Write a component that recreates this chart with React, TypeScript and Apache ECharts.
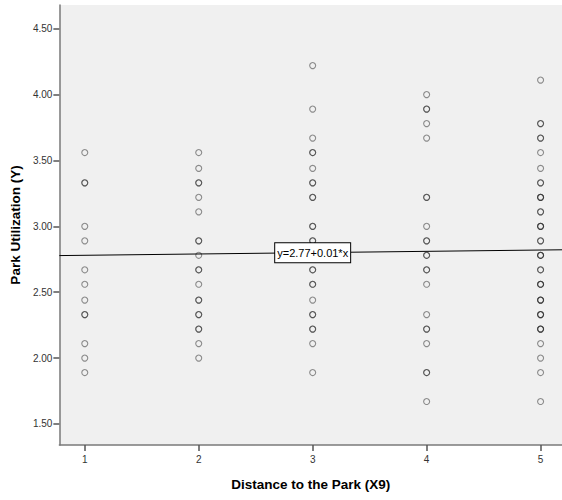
import React, { useEffect, useRef } from "react";
import * as echarts from "echarts";

// Park utilization scores grouped by distance category (repeated values overlap)
const distanceCategories = [1, 2, 3, 4, 5];
const utilizationAt1 = [3.56, 3.33, 3.33, 3.0, 2.89, 2.67, 2.56, 2.44, 2.33, 2.33, 2.11, 2.0, 1.89];
const utilizationAt2 = [
  3.56, 3.44, 3.33, 3.33, 3.22, 3.11, 2.89, 2.89, 2.78, 2.67, 2.67, 2.56, 2.44, 2.44,
  2.33, 2.33, 2.22, 2.22, 2.11, 2.0,
];
const utilizationAt3 = [
  4.22, 3.89, 3.67, 3.56, 3.56, 3.44, 3.33, 3.33, 3.22, 3.22, 3.0, 3.0, 2.89, 2.89,
  2.67, 2.67, 2.56, 2.56, 2.44, 2.33, 2.33, 2.22, 2.22, 2.11, 1.89,
];
const utilizationAt4 = [
  4.0, 3.89, 3.89, 3.78, 3.67, 3.22, 3.22, 3.0, 2.89, 2.89, 2.78, 2.78, 2.67, 2.67,
  2.56, 2.33, 2.22, 2.22, 2.11, 1.89, 1.89, 1.67,
];
const utilizationAt5 = [
  4.11, 3.78, 3.78, 3.67, 3.67, 3.56, 3.44, 3.33, 3.33, 3.22, 3.22, 3.22, 3.11, 3.11,
  3.0, 3.0, 3.0, 2.89, 2.89, 2.78, 2.78, 2.78, 2.67, 2.67, 2.56, 2.56, 2.56, 2.44,
  2.44, 2.44, 2.33, 2.33, 2.33, 2.22, 2.22, 2.22, 2.11, 2.0, 1.89, 1.67,
];

// Fitted line y = intercept + slope * x
const fitIntercept = 2.77;
const fitSlope = 0.01;

const yTickValues = [1.5, 2.0, 2.5, 3.0, 3.5, 4.0, 4.5];
const xTickValues = [1, 2, 3, 4, 5];

const X_MIN = 0.777;
const X_MAX = 5.188;
const Y_MIN = 1.34;
const Y_MAX = 4.68;

export default function App() {
  const ref = useRef<HTMLDivElement>(null);

  useEffect(() => {
    if (!ref.current) return;
    const chart = echarts.init(ref.current, undefined, { renderer: "svg" });

    const columns = [utilizationAt1, utilizationAt2, utilizationAt3, utilizationAt4, utilizationAt5];
    const points: [number, number][] = [];
    columns.forEach((vals, i) => {
      vals.forEach((v) => points.push([distanceCategories[i], v]));
    });

    const fit = (x: number) => fitIntercept + fitSlope * x;
    const labelX = 3;

    chart.setOption({
      animation: false,
      backgroundColor: "#ffffff",
      grid: {
        left: 58,
        right: 0,
        top: 5,
        bottom: 55,
        show: true,
        backgroundColor: "#f0f0f0",
        borderWidth: 0,
      },
      xAxis: {
        type: "value",
        min: X_MIN,
        max: X_MAX,
        name: "Distance to the Park (X9)",
        nameLocation: "middle",
        nameGap: 32,
        nameTextStyle: {
          fontFamily: "Liberation Sans, Arial, sans-serif",
          fontWeight: "bold",
          fontSize: 13.5,
          color: "#000",
        },
        splitLine: { show: false },
        axisLine: { show: true, onZero: false, lineStyle: { color: "#7a7a7a", width: 1.5 } },
        axisTick: {
          show: true,
          length: 6,
          customValues: xTickValues,
          lineStyle: { color: "#555", width: 1.5 },
        },
        axisLabel: {
          customValues: xTickValues,
          margin: 9,
          fontFamily: "Liberation Sans, Arial, sans-serif",
          fontSize: 10,
          color: "#333",
          formatter: (v: number) => String(v),
        },
      },
      yAxis: {
        type: "value",
        min: Y_MIN,
        max: Y_MAX,
        name: "Park Utilization (Y)",
        nameLocation: "middle",
        nameGap: 34,
        nameTextStyle: {
          fontFamily: "Liberation Sans, Arial, sans-serif",
          fontWeight: "bold",
          fontSize: 13.5,
          color: "#000",
        },
        splitLine: { show: false },
        axisLine: { show: true, onZero: false, lineStyle: { color: "#7a7a7a", width: 1.5 } },
        axisTick: {
          show: true,
          length: 6,
          customValues: yTickValues,
          lineStyle: { color: "#555", width: 1.5 },
        },
        axisLabel: {
          customValues: yTickValues,
          margin: 7,
          fontFamily: "Liberation Sans, Arial, sans-serif",
          fontSize: 10,
          color: "#333",
          formatter: (v: number) => v.toFixed(2),
        },
      },
      series: [
        {
          type: "scatter",
          data: points,
          symbol: "circle",
          symbolSize: 6,
          z: 1,
          itemStyle: {
            color: "rgba(0,0,0,0)",
            borderColor: "rgba(30,30,30,0.6)",
            borderWidth: 1.1,
          },
        },
        {
          type: "line",
          data: [
            [X_MIN, fit(X_MIN)],
            [X_MAX, fit(X_MAX)],
          ],
          symbol: "none",
          z: 5,
          lineStyle: { color: "#000", width: 1 },
          markPoint: {
            z: 10,
            symbol: "rect",
            symbolSize: 1,
            itemStyle: { color: "rgba(0,0,0,0)" },
            label: {
              show: true,
              position: "inside",
              formatter: "y=2.77+0.01*x",
              fontFamily: "Liberation Sans, Arial, sans-serif",
              fontSize: 11,
              color: "#000",
              backgroundColor: "#ffffff",
              borderColor: "#000",
              borderWidth: 1,
              padding: [4, 2, 4, 2],
            },
            data: [{ coord: [labelX, fit(labelX)] }],
          },
        },
      ],
    });

    return () => chart.dispose();
  }, []);

  return (
    <div
      ref={ref}
      style={{ position: "fixed", left: 0, top: 0, width: 562, height: 500 }}
    />
  );
}
